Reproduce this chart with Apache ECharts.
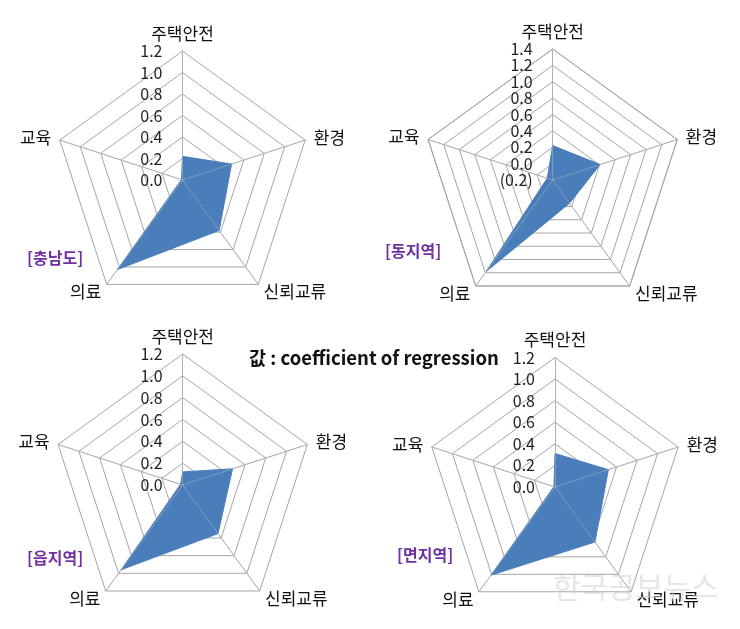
<!DOCTYPE html>
<html>
<head>
<meta charset="utf-8">
<script src="https://cdn.jsdelivr.net/npm/echarts@6/dist/echarts.min.js"></script>
<style>
html,body{margin:0;padding:0;background:#fff;}
#c{width:740px;height:629px;}
</style>
</head>
<body>
<div id="c"></div>
<script>
// Categories in clockwise order, starting at the top
var categories = ['주택안전', '환경', '신뢰교류', '의료', '교육'];
var regionNames = ['[충남도]', '[동지역]', '[읍지역]', '[면지역]'];
var valuesChungnam = [0.22, 0.48, 0.58, 1.03, 0.01];
var valuesDong     = [0.22, 0.41, 0.15, 1.18, -0.13];
var valuesEup      = [0.12, 0.48, 0.55, 0.96, 0.02];
var valuesMyeon    = [0.31, 0.52, 0.63, 1.01, 0.01];
var axisRangeStd = [0, 1.2];
var axisRangeDong = [-0.2, 1.4];
var tickStep = 0.2;
var titleText = '값 : coefficient of regression';
var watermarkText = '한국공보뉴스';

var FONT = '"Noto Sans CJK KR", "Noto Sans", sans-serif';
var BLUE = '#4A7EBB';
var GRID = '#a6a6a6';

// ECharts lays indicators counter-clockwise; reorder clockwise list
function ccwOrder(arr) {
  return [arr[0]].concat(arr.slice(1).reverse());
}

function fmt(v) {
  var r = Math.round(v * 10) / 10;
  if (r < 0) return '(' + Math.abs(r).toFixed(1) + ')';
  return r.toFixed(1);
}

function makeRadar(center, radius, range, overlay) {
  var names = ccwOrder(categories);
  var split = Math.round((range[1] - range[0]) / tickStep);
  return {
    center: center,
    radius: radius,
    shape: 'polygon',
    startAngle: 90,
    splitNumber: split,
    nameGap: 9,
    z: overlay ? 5 : 0,
    axisName: { show: !overlay, color: '#111', fontSize: 17, fontFamily: FONT },
    indicator: names.map(function (n, i) {
      var o = { name: n, min: range[0], max: range[1] };
      if (i === 0 && !overlay) {
        o.axisLabel = { show: true };
      }
      return o;
    }),
    axisLine: { show: true, lineStyle: { color: overlay ? 'rgba(190,190,190,0.45)' : GRID, width: 1 } },
    axisTick: { show: false },
    splitLine: { show: !overlay, lineStyle: { color: GRID, width: 1 } },
    splitArea: { show: false },
    axisLabel: {
      show: false,
      color: '#222',
      fontSize: 16,
      fontFamily: FONT,
      margin: 20,
      showMinLabel: true,
      showMaxLabel: true,
      formatter: fmt
    }
  };
}

var chart = echarts.init(document.getElementById('c'), null, { renderer: 'canvas' });

var layout = [
  { c: [182.5, 180], r: 129, range: axisRangeStd },
  { c: [552.7, 180], r: 131, range: axisRangeDong },
  { c: [182.7, 485], r: 131, range: axisRangeStd },
  { c: [555, 487], r: 129.5, range: axisRangeStd }
];

var radars = layout.map(function (l) { return makeRadar(l.c, l.r, l.range, false); })
  .concat(layout.map(function (l) { return makeRadar(l.c, l.r, l.range, true); }));

var allValues = [valuesChungnam, valuesDong, valuesEup, valuesMyeon];

var series = allValues.map(function (vals, i) {
  return {
    type: 'radar',
    radarIndex: i,
    symbol: 'none',
    silent: true,
    lineStyle: { color: BLUE, width: 1 },
    areaStyle: { color: BLUE, opacity: 1 },
    data: [{ value: ccwOrder(vals), name: regionNames[i] }]
  };
});

var labelPos = [[22, 245], [380, 238], [22, 545], [392, 542]];
var titles = regionNames.map(function (t, i) {
  return {
    text: t,
    left: labelPos[i][0],
    top: labelPos[i][1],
    textStyle: { color: '#7030A0', fontSize: 16, fontWeight: 'bold', fontFamily: FONT }
  };
});
titles.push({
  text: titleText,
  left: 244,
  top: 344,
  textStyle: { color: '#111', fontSize: 18.5, fontWeight: 'bold', fontFamily: FONT }
});

chart.setOption({
  animation: false,
  backgroundColor: '#fff',
  title: titles,
  radar: radars,
  series: series,
  graphic: [{
    type: 'text',
    left: 553,
    top: 572,
    z: 100,
    style: { text: watermarkText, fill: 'rgba(205,205,205,0.5)', font: '30px ' + FONT }
  }]
});
</script>
</body>
</html>
